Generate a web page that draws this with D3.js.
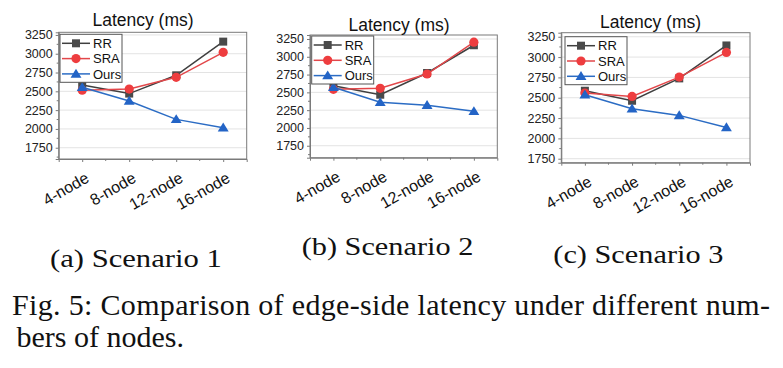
<!DOCTYPE html>
<html>
<head>
<meta charset="utf-8">
<script src="https://cdn.jsdelivr.net/npm/d3@7"></script>
<style>
  html, body { margin: 0; padding: 0; background: #fff; }
  svg { display: block; }
</style>
</head>
<body>
<div id="chart"></div>
<script>
// ---------------- DATA ----------------
const categories = ["4-node", "8-node", "12-node", "16-node"];
const seriesNames = ["RR", "SRA", "Ours"];
const yTicks = [1750, 2000, 2250, 2500, 2750, 3000, 3250];

const s1RR   = [2584, 2470, 2713, 3161];
const s1SRA  = [2515, 2530, 2686, 3019];
const s1Ours = [2553, 2371, 2127, 2016];

const s2RR   = [2593, 2467, 2772, 3162];
const s2SRA  = [2543, 2557, 2758, 3205];
const s2Ours = [2571, 2360, 2318, 2233];

const s3RR   = [2586, 2463, 2738, 3143];
const s3SRA  = [2557, 2516, 2754, 3057];
const s3Ours = [2537, 2365, 2283, 2135];

const panelTitle = "Latency (ms)";
const subCaptions = ["(a) Scenario 1", "(b) Scenario 2", "(c) Scenario 3"];
const figCaption1 = "Fig. 5: Comparison of edge-side latency under different num-";
const figCaption2 = "bers of nodes.";

// ---------------- LAYOUT / STYLE ----------------
const W = 783, H = 368;
const panels = [
  { left: 58.7, right: 246.7, top: 32.3, bottom: 159,   yDomain: [1600, 3285],
    titleX: 143,   titleY: 26,   legend: [60, 34.3],
    cap: [50, 266.7, 171.7], data: [s1RR, s1SRA, s1Ours] },
  { left: 310,  right: 497.3, top: 35,   bottom: 157.7, yDomain: [1582, 3306],
    titleX: 399,   titleY: 30.7, legend: [311.7, 36],
    cap: [301.7, 255, 171.6], data: [s2RR, s2SRA, s2Ours] },
  { left: 561.3, right: 750,  top: 32.7, bottom: 162.7, yDomain: [1701, 3300],
    titleX: 650.5, titleY: 28.3, legend: [565, 36.7],
    cap: [553.3, 263.3, 170], data: [s3RR, s3SRA, s3Ours] }
];
const styles = {
  RR:   { line: "#3f3f3f", fill: "#4a4a4a", shape: "square" },
  SRA:  { line: "#e2474a", fill: "#ee3d3f", shape: "circle" },
  Ours: { line: "#2b6cc4", fill: "#2364c6", shape: "triangle" }
};
const sansFont = "'Liberation Sans', Arial, sans-serif";
const serifFont = "'Liberation Serif', 'Times New Roman', serif";

const svg = d3.select("#chart").append("svg")
  .attr("width", W).attr("height", H)
  .attr("viewBox", `0 0 ${W} ${H}`);

function drawMarker(g, shape, x, y, st) {
  if (shape === "square") {
    g.append("rect").attr("x", x - 4).attr("y", y - 4).attr("width", 8).attr("height", 8)
      .attr("fill", st.fill);
  } else if (shape === "circle") {
    g.append("circle").attr("cx", x).attr("cy", y).attr("r", 4.6).attr("fill", st.fill);
  } else {
    const s = 5.2;
    g.append("path")
      .attr("d", `M${x},${y - s} L${x + s * 1.05},${y + s * 0.72} L${x - s * 1.05},${y + s * 0.72} Z`)
      .attr("fill", st.fill);
  }
}

panels.forEach((p) => {
  const g = svg.append("g");
  const x = d3.scalePoint().domain(categories).range([p.left, p.right]).padding(0.5);
  const y = d3.scaleLinear().domain(p.yDomain).range([p.bottom, p.top]);

  // gridlines
  g.append("g").selectAll("line").data(yTicks).join("line")
    .attr("x1", p.left).attr("x2", p.right)
    .attr("y1", d => y(d)).attr("y2", d => y(d))
    .attr("stroke", "#e3e3e3").attr("stroke-width", 1);

  // frame
  g.append("rect").attr("x", p.left).attr("y", p.top)
    .attr("width", p.right - p.left).attr("height", p.bottom - p.top)
    .attr("fill", "none").attr("stroke", "#7a7a7a").attr("stroke-width", 1);

  // y axis
  const yAxis = d3.axisLeft(y).tickValues(yTicks).tickSize(3).tickPadding(3)
    .tickFormat(d3.format("d"));
  const ya = g.append("g").attr("transform", `translate(${p.left},0)`).call(yAxis);
  ya.select(".domain").attr("stroke", "#7a7a7a");
  ya.selectAll(".tick line").attr("stroke", "#7a7a7a");
  ya.selectAll("text").attr("font-family", sansFont).attr("font-size", 12.5).attr("fill", "#222");
  // y minor ticks
  const yMinor = yTicks.slice(0, -1).map((d, i) => (d + yTicks[i + 1]) / 2)
    .concat([yTicks[0] - 125, yTicks[yTicks.length - 1] + 125])
    .filter(v => v >= p.yDomain[0] && v <= p.yDomain[1]);
  g.append("g").selectAll("line").data(yMinor).join("line")
    .attr("x1", p.left - 2).attr("x2", p.left)
    .attr("y1", d => y(d)).attr("y2", d => y(d))
    .attr("stroke", "#7a7a7a");

  // x axis
  const xAxis = d3.axisBottom(x).tickSize(3).tickFormat("");
  const xa = g.append("g").attr("transform", `translate(0,${p.bottom})`).call(xAxis);
  xa.select(".domain").attr("stroke", "#7a7a7a");
  xa.selectAll(".tick line").attr("stroke", "#7a7a7a");
  const step = x.step();
  const xMinor = categories.slice(0, -1).map(c => x(c) + step / 2);
  g.append("g").selectAll("line").data(xMinor).join("line")
    .attr("x1", d => d).attr("x2", d => d)
    .attr("y1", p.bottom).attr("y2", p.bottom + 2)
    .attr("stroke", "#7a7a7a");
  g.append("g").selectAll("text").data(categories).join("text")
    .attr("transform", d => `translate(${x(d) + 8},${p.bottom + 22}) rotate(-30)`)
    .attr("text-anchor", "end")
    .attr("font-family", sansFont).attr("font-size", 16).attr("fill", "#111")
    .text(d => d);

  // title
  g.append("text").attr("x", p.titleX).attr("y", p.titleY)
    .attr("text-anchor", "middle").attr("font-family", sansFont)
    .attr("font-size", 17.5).attr("fill", "#111").text(panelTitle);

  // series
  seriesNames.forEach((name, si) => {
    const vals = p.data[si];
    const st = styles[name];
    const line = d3.line().x((d, i) => x(categories[i])).y(d => y(d));
    g.append("path").datum(vals).attr("d", line)
      .attr("fill", "none").attr("stroke", st.line).attr("stroke-width", 1.5);
    const mg = g.append("g");
    vals.forEach((v, i) => drawMarker(mg, st.shape, x(categories[i]), y(v), st));
  });

  // legend
  const [lx, ly] = p.legend;
  const lg = g.append("g");
  lg.append("rect").attr("x", lx).attr("y", ly).attr("width", 62).attr("height", 48)
    .attr("fill", "#fff").attr("stroke", "#555").attr("stroke-width", 1);
  seriesNames.forEach((name, i) => {
    const st = styles[name];
    const yy = ly + 9 + i * 15.3;
    lg.append("line").attr("x1", lx + 2).attr("x2", lx + 30).attr("y1", yy).attr("y2", yy)
      .attr("stroke", st.line).attr("stroke-width", 1.5);
    drawMarker(lg, st.shape, lx + 16, yy, st);
    lg.append("text").attr("x", lx + 33).attr("y", yy).attr("dy", "0.36em")
      .attr("font-family", sansFont).attr("font-size", 13).attr("fill", "#111").text(name);
  });

  // sub caption
  svg.append("text").attr("x", p.cap[0]).attr("y", p.cap[1])
    .attr("font-family", serifFont).attr("font-size", 25).attr("fill", "#111")
    .attr("textLength", p.cap[2]).attr("lengthAdjust", "spacingAndGlyphs")
    .text(subCaptions[panels.indexOf(p)]);
});

// figure caption
svg.append("text").attr("x", 12).attr("y", 315)
  .attr("font-family", serifFont).attr("font-size", 30).attr("fill", "#111")
  .attr("textLength", 758).attr("lengthAdjust", "spacing")
  .text(figCaption1);
svg.append("text").attr("x", 16.5).attr("y", 346.7)
  .attr("font-family", serifFont).attr("font-size", 30).attr("fill", "#111")
  .text(figCaption2);
</script>
</body>
</html>
